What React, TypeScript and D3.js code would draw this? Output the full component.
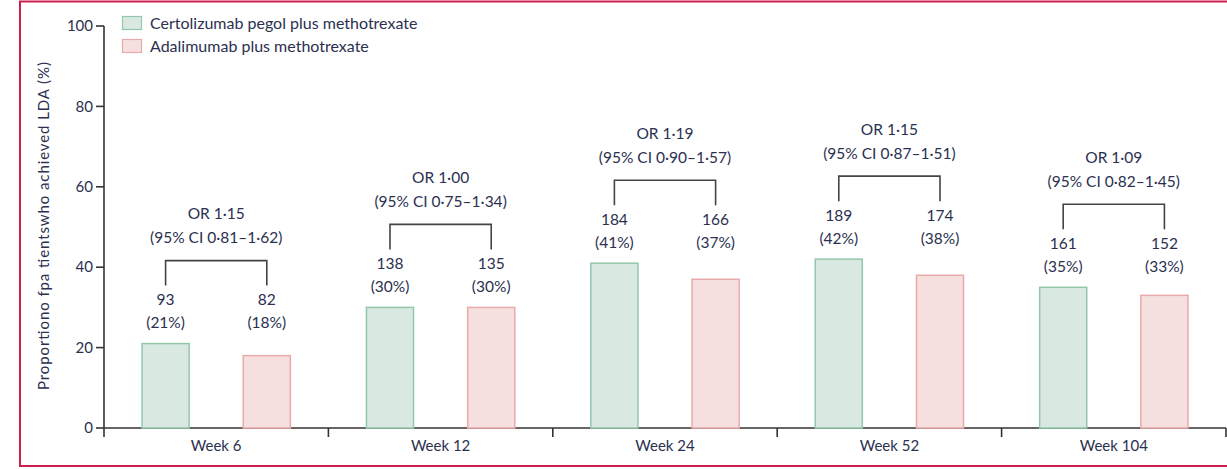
import React from "react";
import * as d3 from "d3";

// Visits and per-arm results (responders and percentages)
const categories = ["Week 6", "Week 12", "Week 24", "Week 52", "Week 104"];
const czpCounts = [93, 138, 184, 189, 161];
const czpPercent = [21, 30, 41, 42, 35];
const adaCounts = [82, 135, 166, 174, 152];
const adaPercent = [18, 30, 37, 38, 33];
// Odds ratios with 95% CI per visit
const orValues = ["1·15", "1·00", "1·19", "1·15", "1·09"];
const ciLower = ["0·81", "0·75", "0·90", "0·87", "0·82"];
const ciUpper = ["1·62", "1·34", "1·57", "1·51", "1·45"];
const yTicks = [0, 20, 40, 60, 80, 100];
const seriesNames = ["Certolizumab pegol plus methotrexate", "Adalimumab plus methotrexate"];

const W = 1227;
const H = 469;
const FONT = "Lato, 'Open Sans', sans-serif";
const TEXT = "#2b3050";
const AXIS = "#333";
const GREEN_FILL = "#d9e9e1";
const GREEN_STROKE = "#93c7aa";
const PINK_FILL = "#f6e0df";
const PINK_STROKE = "#e9aaa9";
const ANN = 15.5;

export default function App() {
  const x = d3.scaleBand<string>().domain(categories).range([104, 1226]);
  const sub = d3
    .scaleBand<string>()
    .domain(["czp", "ada"])
    .range([0, x.bandwidth()])
    .paddingInner(0.535)
    .paddingOuter(0.376);
  const y = d3.scaleLinear().domain([0, 100]).range([428, 26]);
  const bw = sub.bandwidth();

  const boundaries = [...categories.map((c) => x(c) as number), x.range()[1]];

  return (
    <svg
      width={W}
      height={H}
      style={{ position: "absolute", left: 0, top: 0, background: "#fff" }}
      fontFamily={FONT}
    >
      {/* frame */}
      <rect x={20} y={1.5} width={1220} height={464.5} fill="none" stroke="#cc1f4e" strokeWidth={2} />

      {/* legend */}
      {seriesNames.map((name, i) => (
        <g key={name} transform={`translate(122, ${16 + i * 23})`}>
          <rect
            x={0.5}
            y={0.5}
            width={19}
            height={13}
            fill={i === 0 ? GREEN_FILL : PINK_FILL}
            stroke={i === 0 ? GREEN_STROKE : PINK_STROKE}
            strokeWidth={1.2}
          />
          <text x={28} y={7} dy="0.35em" fontSize={16} fill={TEXT}>
            {name}
          </text>
        </g>
      ))}

      {/* y axis */}
      <line x1={104} x2={104} y1={y(100)} y2={y(0)} stroke={AXIS} strokeWidth={1.6} />
      {yTicks.map((t) => (
        <g key={t}>
          <line x1={96} x2={104} y1={y(t)} y2={y(t)} stroke={AXIS} strokeWidth={1.6} />
          <text x={93} y={y(t)} dy="0.35em" textAnchor="end" fontSize={15} fill={TEXT}>
            {t}
          </text>
        </g>
      ))}
      <text
        transform={`translate(44, 226) rotate(-90)`}
        textAnchor="middle"
        dy="0.35em"
        fontSize={15}
        textLength={328}
        lengthAdjust="spacing"
        fill={TEXT}
      >
        Proportiono fpa tientswho achieved LDA (%)
      </text>

      {/* x axis */}
      <line x1={104} x2={x.range()[1]} y1={y(0)} y2={y(0)} stroke={AXIS} strokeWidth={1.6} />
      {boundaries.map((b, i) => (
        <line key={i} x1={b} x2={b} y1={y(0)} y2={y(0) + 9} stroke={AXIS} strokeWidth={1.6} />
      ))}
      {categories.map((c) => (
        <text
          key={c}
          x={(x(c) as number) + x.bandwidth() / 2}
          y={446}
          dy="0.35em"
          textAnchor="middle"
          fontSize={15}
          fill={TEXT}
        >
          {c}
        </text>
      ))}

      {/* bars and annotations */}
      {categories.map((c, i) => {
        const x0 = x(c) as number;
        const gx = x0 + (sub("czp") as number);
        const px = x0 + (sub("ada") as number);
        const gc = gx + bw / 2;
        const pc = px + bw / 2;
        const mid = (gc + pc) / 2;
        const top = y(Math.max(czpPercent[i], adaPercent[i]));
        return (
          <g key={c}>
            <rect
              x={gx}
              y={y(czpPercent[i])}
              width={bw}
              height={y(0) - y(czpPercent[i])}
              fill={GREEN_FILL}
              stroke={GREEN_STROKE}
              strokeWidth={1.5}
            />
            <rect
              x={px}
              y={y(adaPercent[i])}
              width={bw}
              height={y(0) - y(adaPercent[i])}
              fill={PINK_FILL}
              stroke={PINK_STROKE}
              strokeWidth={1.5}
            />
            <text x={gc} y={top - 44} dy="0.35em" textAnchor="middle" fontSize={ANN} fill={TEXT}>
              {czpCounts[i]}
            </text>
            <text x={gc} y={top - 21} dy="0.35em" textAnchor="middle" fontSize={ANN} fill={TEXT}>
              ({czpPercent[i]}%)
            </text>
            <text x={pc} y={top - 44} dy="0.35em" textAnchor="middle" fontSize={ANN} fill={TEXT}>
              {adaCounts[i]}
            </text>
            <text x={pc} y={top - 21} dy="0.35em" textAnchor="middle" fontSize={ANN} fill={TEXT}>
              ({adaPercent[i]}%)
            </text>
            <path
              d={`M${gc},${top - 58}V${top - 83}H${pc}V${top - 58}`}
              fill="none"
              stroke="#444"
              strokeWidth={1.6}
            />
            <text x={mid} y={top - 130} dy="0.35em" textAnchor="middle" fontSize={ANN} fill={TEXT}>
              OR {orValues[i]}
            </text>
            <text x={mid} y={top - 106} dy="0.35em" textAnchor="middle" fontSize={ANN} fill={TEXT}>
              (95% CI {ciLower[i]}–{ciUpper[i]})
            </text>
          </g>
        );
      })}
    </svg>
  );
}
